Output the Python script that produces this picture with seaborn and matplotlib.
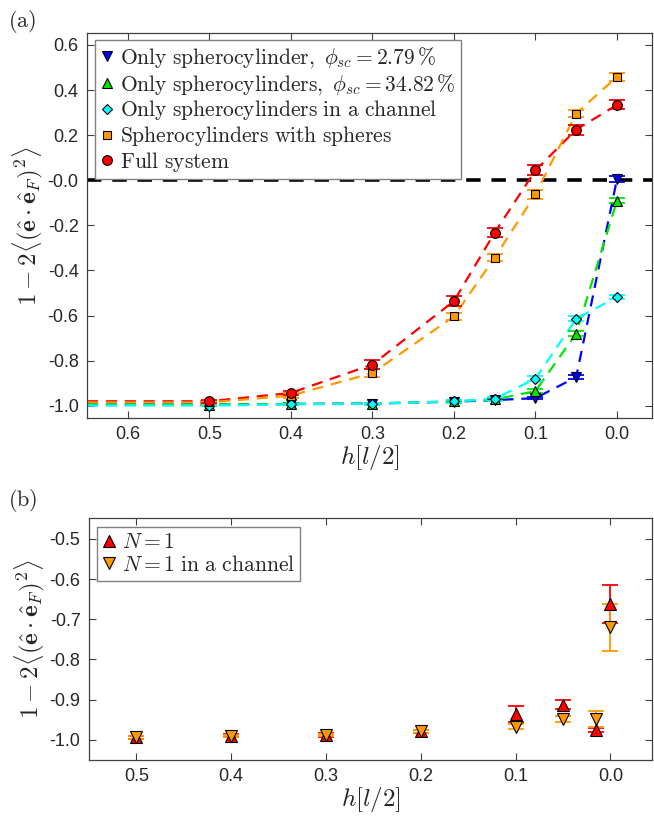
import numpy as np
import pandas as pd
import seaborn as sns
import matplotlib.pyplot as plt
from matplotlib.ticker import FormatStrFormatter, FixedLocator

# -------- Data: panel (a) --------
h_a = [0.5, 0.4, 0.3, 0.2, 0.15, 0.1, 0.05, 0.0]
blue_vals = [-0.995, -0.992, -0.990, -0.982, -0.975, -0.966, -0.873, 0.006]
blue_err = [0.004, 0.004, 0.004, 0.005, 0.005, 0.006, 0.010, 0.012]
green_vals = [-0.995, -0.992, -0.990, -0.980, -0.972, -0.935, -0.680, -0.090]
green_err = [0.004, 0.004, 0.004, 0.005, 0.006, 0.008, 0.010, 0.010]
cyan_vals = [-0.999, -0.994, -0.991, -0.981, -0.969, -0.880, -0.614, -0.518]
cyan_err = [0.004, 0.004, 0.005, 0.006, 0.010, 0.012, 0.012, 0.010]
orange_vals = [-0.985, -0.955, -0.855, -0.604, -0.343, -0.062, 0.296, 0.459]
orange_err = [0.006, 0.010, 0.016, 0.016, 0.016, 0.020, 0.016, 0.018]
red_vals = [-0.980, -0.943, -0.817, -0.536, -0.232, 0.044, 0.225, 0.334]
red_err = [0.006, 0.010, 0.020, 0.022, 0.020, 0.022, 0.022, 0.020]

# dashed guide lines continue flat out to the left edge of the axis
h_edge = 0.65

labels_a = [
    r'$\mathrm{Only\ spherocylinder,}\ \phi_{sc}=2.79\,\%$',
    r'$\mathrm{Only\ spherocylinders,}\ \phi_{sc}=34.82\,\%$',
    r'$\mathrm{Only\ spherocylinders\ in\ a\ channel}$',
    r'$\mathrm{Spherocylinders\ with\ spheres}$',
    r'$\mathrm{Full\ system}$',
]

# -------- Data: panel (b) --------
h_b = [0.5, 0.4, 0.3, 0.2, 0.1, 0.05, 0.015, 0.0]
n1_vals = [-0.994, -0.990, -0.988, -0.979, -0.935, -0.913, -0.975, -0.663]
n1_err = [0.004, 0.004, 0.004, 0.004, 0.020, 0.011, 0.005, 0.047]
n1ch_vals = [-0.994, -0.990, -0.988, -0.979, -0.967, -0.948, -0.948, -0.720]
n1ch_err = [0.003, 0.003, 0.003, 0.003, 0.006, 0.007, 0.020, 0.058]
labels_b = [r'$N=1$', r'$N=1\ \mathrm{in\ a\ channel}$']

YLABEL = r'$1-2\langle(\hat{\mathbf{e}}\cdot\hat{\mathbf{e}}_F)^2\rangle$'

# -------- Style --------
sns.set_style("ticks")
plt.rcParams['font.family'] = ['Liberation Sans', 'DejaVu Sans']
plt.rcParams['mathtext.fontset'] = 'cm'
plt.rcParams['xtick.direction'] = 'in'
plt.rcParams['ytick.direction'] = 'in'

AX_COL = '#404040'
RED = '#ff0000'
ORANGE = '#ff9900'
BLUE = '#0000ff'
GREEN = '#00e600'
CYAN = '#00ffff'

fig = plt.figure(figsize=(6.54, 8.26), dpi=100)
ax_a = fig.add_axes([0.133, 0.494, 0.864, 0.466])
ax_b = fig.add_axes([0.136, 0.080, 0.861, 0.293])

# -------- Panel (a) --------
series_a = [
    (blue_vals, blue_err, BLUE, 'v', 6.5, labels_a[0]),
    (green_vals, green_err, GREEN, '^', 6.5, labels_a[1]),
    (cyan_vals, cyan_err, CYAN, 'D', 5.5, labels_a[2]),
    (orange_vals, orange_err, ORANGE, 's', 5.5, labels_a[3]),
    (red_vals, red_err, RED, 'o', 7, labels_a[4]),
]

ax_a.axhline(0.0, color='black', lw=2.6, ls=(0, (4, 3)), zorder=1)

# lines first (red/orange behind, cyan on top of blue/green)
for vals, err, col, mk, ms, lab in [series_a[4], series_a[3], series_a[0], series_a[1], series_a[2]]:
    df = pd.DataFrame({'h': [h_edge] + h_a, 'v': [vals[0]] + vals})
    sns.lineplot(data=df, x='h', y='v', ax=ax_a, color=col, lw=1.6,
                 linestyle=(0, (5, 3.5)), sort=False, legend=False, zorder=2)

for vals, err, col, mk, ms, lab in series_a:
    ax_a.errorbar(h_a, vals, yerr=err, fmt='none', ecolor=col, elinewidth=1.3,
                  capsize=6, capthick=1.3, zorder=3)
    ax_a.plot(h_a, vals, ls='none', marker=mk, ms=ms, mfc=col, mec='black',
              mew=0.8, label=lab, zorder=4)

ax_a.set_xlim(0.65, -0.043)
ax_a.set_ylim(-1.054, 0.653)
ax_a.xaxis.set_major_locator(FixedLocator([0.6, 0.5, 0.4, 0.3, 0.2, 0.1, 0.0]))
ax_a.yaxis.set_major_locator(FixedLocator(np.round(np.arange(-1.0, 0.61, 0.2), 1)))
ax_a.set_xlabel(r'$h[l/2]$', fontsize=18, labelpad=0)
ax_a.set_ylabel(YLABEL, fontsize=18, labelpad=2)

leg_a = ax_a.legend(loc='upper left', bbox_to_anchor=(0.014, 0.982), borderaxespad=0,
                    fontsize=15.5, handlelength=0.6, handletextpad=0.3, labelspacing=0.08,
                    borderpad=0.25, fancybox=False, framealpha=1, edgecolor='#808080')
leg_a.get_frame().set_linewidth(1.0)

# -------- Panel (b) --------
series_b = [
    (n1_vals, n1_err, RED, '^', 8, labels_b[0]),
    (n1ch_vals, n1ch_err, ORANGE, 'v', 8, labels_b[1]),
]
for vals, err, col, mk, ms, lab in series_b:
    ax_b.errorbar(h_b, vals, yerr=err, fmt='none', ecolor=col, elinewidth=1.3,
                  capsize=6, capthick=1.3, zorder=3)
for vals, err, col, mk, ms, lab in series_b:
    ax_b.plot(h_b, vals, ls='none', marker=mk, ms=ms, mfc=col, mec='black',
              mew=0.8, label=lab, zorder=4)

ax_b.set_xlim(0.55, -0.044)
ax_b.set_ylim(-1.05, -0.448)
ax_b.xaxis.set_major_locator(FixedLocator([0.5, 0.4, 0.3, 0.2, 0.1, 0.0]))
ax_b.yaxis.set_major_locator(FixedLocator(np.round(np.arange(-1.0, -0.49, 0.1), 1)))
ax_b.set_xlabel(r'$h[l/2]$', fontsize=18, labelpad=0)
ax_b.set_ylabel(YLABEL, fontsize=18, labelpad=2)

leg_b = ax_b.legend(loc='upper left', bbox_to_anchor=(0.014, 0.963), borderaxespad=0,
                    fontsize=15.5, handlelength=0.6, handletextpad=0.3, labelspacing=0.08,
                    borderpad=0.25, fancybox=False, framealpha=1, edgecolor='#808080')
leg_b.get_frame().set_linewidth(1.0)

# -------- Common axis styling --------
for ax in (ax_a, ax_b):
    ax.xaxis.set_major_formatter(FormatStrFormatter('%.1f'))
    ax.yaxis.set_major_formatter(FormatStrFormatter('%.1f'))
    ax.tick_params(which='both', top=True, right=True, length=5, width=0.8,
                   color=AX_COL, labelcolor='#262626', labelsize=13, pad=6)
    for sp in ax.spines.values():
        sp.set_visible(True)
        sp.set_color(AX_COL)
        sp.set_linewidth(0.9)

fig.text(0.012, 0.99, r'$\mathrm{(a)}$', fontsize=16, va='top')
fig.text(0.012, 0.41, r'$\mathrm{(b)}$', fontsize=16, va='top')

fig.savefig('out.png', dpi=100)
plt.close(fig)
